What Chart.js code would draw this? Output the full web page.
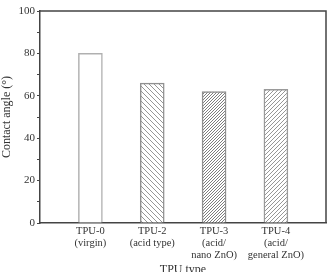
<!DOCTYPE html>
<html>
<head>
<meta charset="utf-8">
<script src="https://cdn.jsdelivr.net/npm/chart.js@4"></script>
<style>
  body { margin: 0; background: #fff; }
  #wrap { width: 331px; height: 272px; }
</style>
</head>
<body>
<div id="wrap"><canvas id="myChart"></canvas></div>
<script>
const categories = [
  ["TPU-0", "(virgin)"],
  ["TPU-2", "(acid type)"],
  ["TPU-3", "(acid/", "nano ZnO)"],
  ["TPU-4", "(acid/", "general ZnO)"]
];
const positions = [1, 2, 3, 4];
const contactAngle = [80, 66, 62, 63];
const yTicks = [0, 20, 40, 60, 80, 100];

// hatch patterns
function hatch(size, dir, color, lw) {
  const c = document.createElement("canvas");
  c.width = size;
  c.height = size;
  const g = c.getContext("2d");
  g.fillStyle = "#fff";
  g.fillRect(0, 0, size, size);
  g.strokeStyle = color;
  g.lineWidth = lw;
  g.beginPath();
  if (dir == "/") {
    g.moveTo(0, size); g.lineTo(size, 0);
    g.moveTo(-1, 1); g.lineTo(1, -1);
    g.moveTo(size - 1, size + 1); g.lineTo(size + 1, size - 1);
  } else {
    g.moveTo(0, 0); g.lineTo(size, size);
    g.moveTo(size - 1, -1); g.lineTo(size + 1, 1);
    g.moveTo(-1, size - 1); g.lineTo(1, size + 1);
  }
  g.stroke();
  return g.createPattern(c, "repeat");
}

const fills = [
  "#ffffff",
  hatch(5, "\\", "#8a8a8a", 0.9),
  hatch(3, "/", "#6e6e6e", 0.9),
  hatch(4, "/", "#8a8a8a", 0.9)
];

const frame = {
  id: "frame",
  afterDraw(chart) {
    const a = chart.chartArea;
    const c = chart.ctx;
    c.save();
    c.strokeStyle = "#444";
    c.lineWidth = 1.5;
    c.beginPath();
    c.moveTo(a.left, a.top);
    c.lineTo(a.right, a.top);
    c.lineTo(a.right, a.bottom);
    c.stroke();
    c.restore();
  }
};

const ctx = document.getElementById("myChart");
const serif = "'Liberation Serif', 'DejaVu Serif', serif";

new Chart(ctx, {
  type: "bar",
  data: {
    datasets: [
      {
        data: positions.map((p, i) => ({ x: p, y: contactAngle[i] })),
        backgroundColor: fills,
        borderColor: ["#b0b0b0", "#909090", "#909090", "#9a9a9a"],
        borderWidth: 1.5,
        borderSkipped: "bottom",
        barThickness: 24
      }
    ]
  },
  options: {
    responsive: true,
    maintainAspectRatio: false,
    animation: false,
    layout: { padding: { top: 11, right: 5, left: 0, bottom: 0 } },
    plugins: { legend: { display: false }, tooltip: { enabled: false } },
    scales: {
      x: {
        type: "linear",
        offset: false,
        min: 0.185,
        max: 4.81,
        afterBuildTicks: (axis) => {
          axis.ticks = positions.map((v) => ({ value: v }));
        },
        afterFit: (scale) => { scale.height = 49; },
        grid: { display: false, drawTicks: false },
        border: { color: "#444", width: 1.5 },
        ticks: {
          color: "#333",
          padding: 2,
          maxRotation: 0,
          autoSkip: false,
          font: { family: serif, size: 10.5, lineHeight: 1.15 },
          callback: (v) => categories[v - 1]
        },
        title: {
          display: true,
          text: "TPU type",
          color: "#333",
          padding: { top: 0, bottom: -5 },
          font: { family: serif, size: 12 }
        }
      },
      y: {
        min: 0,
        max: 100,
        afterBuildTicks: (axis) => {
          const t = [];
          for (let v = 0; v <= 100; v += 10) t.push({ value: v });
          axis.ticks = t;
        },
        afterFit: (scale) => { scale.width = 40; },
        grid: { drawOnChartArea: false, tickLength: 3, tickColor: "#444" },
        border: { color: "#444", width: 1.5 },
        ticks: {
          color: "#333",
          padding: 2,
          font: { family: serif, size: 11 },
          callback: (v) => (yTicks.includes(v) ? v : "")
        },
        title: {
          display: true,
          text: "Contact angle (°)",
          color: "#333",
          padding: { top: 0, bottom: 2 },
          font: { family: serif, size: 12 }
        }
      }
    }
  },
  plugins: [frame]
});
</script>
</body>
</html>
